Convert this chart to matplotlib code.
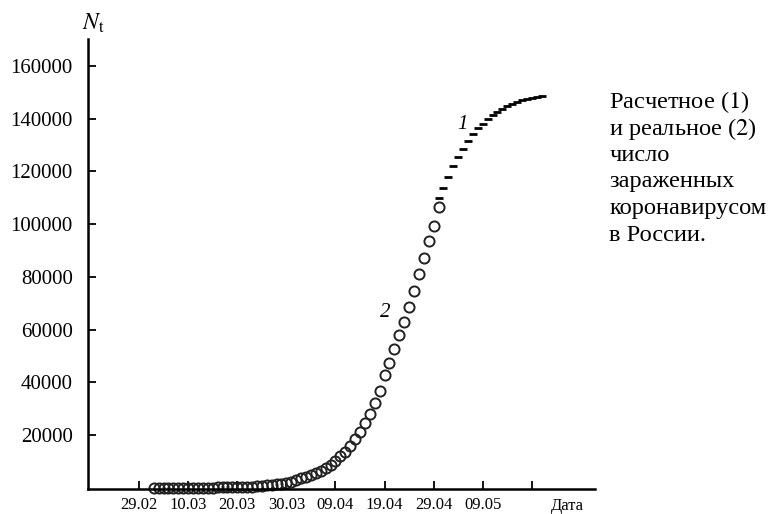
import numpy as np
import matplotlib.pyplot as plt

plt.rcParams['font.family'] = ['Liberation Serif', 'DejaVu Serif']
plt.rcParams['mathtext.fontset'] = 'stix'

# days counted from 29.02
real_days = np.arange(3, 62)
real_cases = [3, 3, 4, 10, 14, 17, 17, 20, 28, 34, 45, 59, 63, 93, 114, 147,
              199, 253, 306, 367, 438, 495, 658, 840, 1036, 1264, 1534, 1836,
              2337, 2777, 3548, 4149, 4731, 5389, 6343, 7497, 8672, 10131,
              11917, 13584, 15770, 18328, 21102, 24490, 27938, 32008, 36793,
              42853, 47121, 52763, 57999, 62773, 68622, 74588, 80949, 87147,
              93558, 99399, 106498]

model_days = np.arange(61, 83)
model_cases = [109900, 113700, 117900, 122000, 125500, 128500, 131500, 134200,
               136500, 138000, 139900, 141400, 142700, 143800, 144800, 145600,
               146300, 146900, 147400, 147900, 148300, 148700]

tick_days = [0, 10, 20, 30, 40, 50, 60, 70, 80]
tick_labels = ['29.02', '10.03', '20.03', '30.03', '09.04', '19.04', '29.04', '09.05', '']
y_ticks = [20000, 40000, 60000, 80000, 100000, 120000, 140000, 160000]

caption = ['Расчетное ($\\mathit{1}$)', 'и реальное ($\\mathit{2}$)', 'число',
           'зараженных', 'коронавирусом', 'в России.']

fig = plt.figure(figsize=(7.75, 5.14), dpi=100)
ax = fig.add_axes([0.1135, 0.0486, 0.6545, 0.8754])

ax.plot(model_days, model_cases, ls='none', marker='_', ms=5.5, mew=2.0, color='black')
ax.plot(real_days, real_cases, ls='none', marker='o', ms=7.3, mfc='none',
        mec='#222222', mew=1.4, clip_on=False)

ax.set_xlim(-10.4, 92.9)
ax.set_ylim(-500, 170200)

for s in ['top', 'right']:
    ax.spines[s].set_visible(False)
for s in ['left', 'bottom']:
    ax.spines[s].set_linewidth(1.8)

ax.set_xticks(tick_days)
ax.set_xticklabels(tick_labels, fontsize=12)
ax.set_yticks(y_ticks)
ax.set_yticklabels([str(v) for v in y_ticks], fontsize=15)
ax.tick_params(axis='both', direction='in', length=6, width=1.3)
ax.tick_params(axis='y', pad=11)
ax.tick_params(axis='x', pad=6)

ax.text(-0.012, 1.035, r'$N_{\mathrm{t}}$', transform=ax.transAxes, fontsize=17,
        ha='left', va='center')
ax.text(0.945, -0.037, 'Дата', transform=ax.transAxes, fontsize=12,
        ha='center', va='center')

ax.text(65.8, 137600, '1', fontsize=15, style='italic', ha='center', va='center')
ax.text(50.2, 66600, '2', fontsize=15, style='italic', ha='center', va='center')

for i, t in enumerate(caption):
    fig.text(0.786, 0.8016 - i * 0.0518, t, fontsize=17.6, ha='left', va='center')

fig.savefig('out.png', dpi=100)
